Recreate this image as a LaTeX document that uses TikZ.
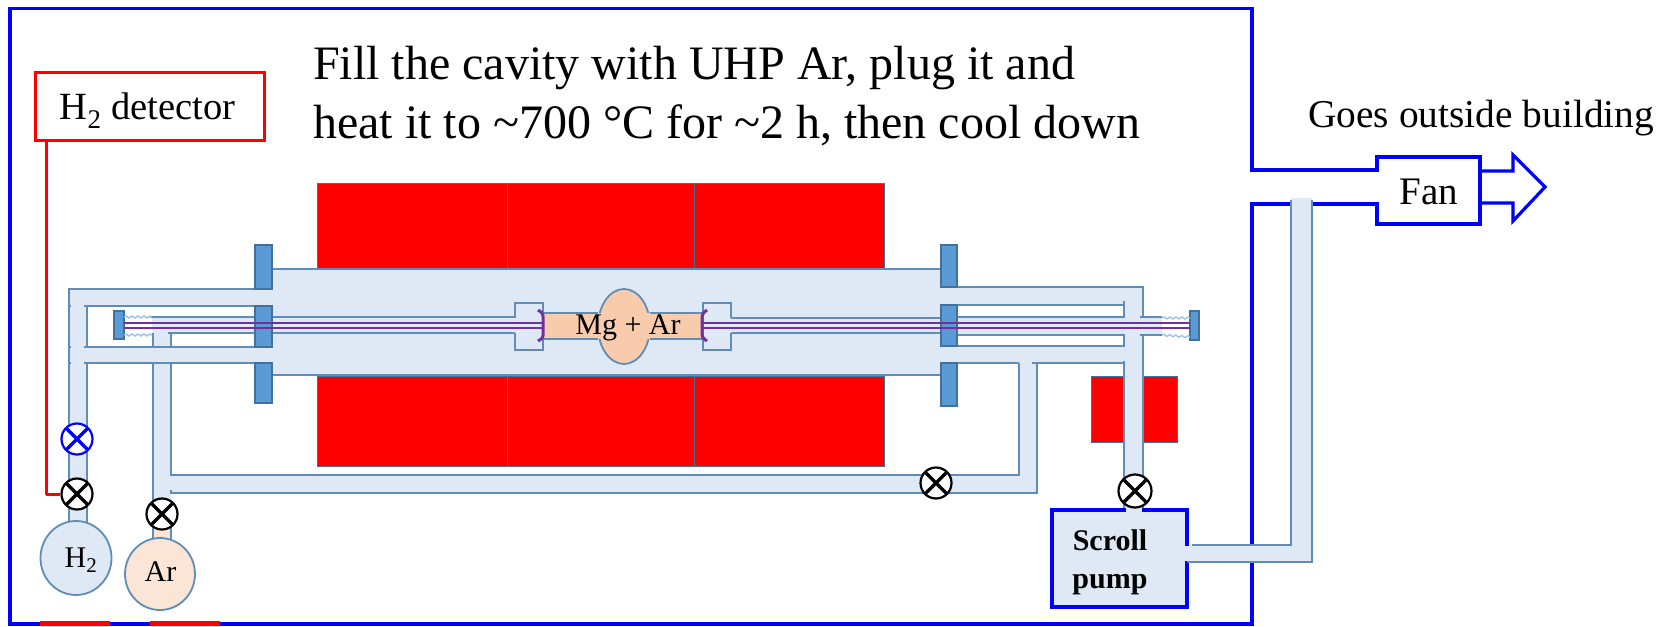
\documentclass[tikz,border=0pt]{standalone}
\usepackage{fontspec}
\setmainfont{Liberation Serif}
\usetikzlibrary{decorations.pathmorphing}
\definecolor{tubeline}{HTML}{5F8DB5}
\definecolor{tubefill}{HTML}{DEE9F5}
\definecolor{flangefill}{HTML}{5B9BD5}
\definecolor{flangeline}{HTML}{41719C}
\definecolor{peach}{HTML}{F8CBAD}
\definecolor{lightpeach}{HTML}{FBE5D6}
\definecolor{purp}{HTML}{7030A0}
\definecolor{squig}{HTML}{9DC3E6}
\newcommand{\fsz}[1]{\fontsize{#1}{#1}\selectfont}
\tikzset{
  tubef/.style={fill=tubefill,draw=none},
  tl/.style={draw=tubeline,line width=1.8pt},
  heater/.style={fill=red,draw=flangeline,line width=1pt},
  flange/.style={fill=flangefill,draw=flangeline,line width=1.2pt},
  duct/.style={draw=blue,line width=3.2pt},
  redl/.style={draw=red,line width=3pt},
  purpl/.style={draw=purp,line width=1.6pt},
  squiggle/.style={draw=squig,line width=1.4pt,decorate,decoration={snake,segment length=6pt,amplitude=1pt}},
  valve/.style={circle,draw=#1,line width=2.2pt,fill=white,minimum size=31pt,inner sep=0pt,
    path picture={\draw[#1,line width=3.4pt] (path picture bounding box.north west)--(path picture bounding box.south east)
      (path picture bounding box.north east)--(path picture bounding box.south west);}},
  tank/.style={ellipse,draw=tubeline,line width=1.8pt,inner sep=0pt},
  lab/.style={inner sep=0pt,text=black},
}
\usetikzlibrary{shapes.geometric}
\begin{document}
\begin{tikzpicture}[x=1pt,y=-1pt]
\useasboundingbox (0,0) rectangle (1669,626);
% outer enclosure and fan duct
\draw[duct,line join=miter] (1252,170) -- (1252,8.5) -- (10,8.5) -- (10,624) -- (1252,624) -- (1252,204) -- (1377,204) -- (1377,224) -- (1480,224) -- (1480,157) -- (1377,157) -- (1377,170) -- cycle;
\fill[white] (1250.5,171.6) rectangle (1253.7,202.4);
\draw[duct] (1252,170) -- (1377,170);
\draw[duct,line join=miter] (1480,171) -- (1513,171) -- (1513,155) -- (1545,187) -- (1513,221) -- (1513,203) -- (1480,203);
\fill[red] (40,621) rectangle (110,626) (150,621) rectangle (220,626);
% heaters
\draw[heater] (317,183) rectangle (507,268);
\draw[heater] (507,183) rectangle (694,268);
\draw[heater] (694,183) rectangle (884,268);
\draw[heater] (317,376) rectangle (507,466);
\draw[heater] (507,376) rectangle (694,466);
\draw[heater] (694,376) rectangle (884,466);
\draw[heater] (1091,376) rectangle (1177,442);
% tube fills
\fill[tubef] (255,269) rectangle (957,375);
\fill[tubef] (69,289) rectangle (255,306);
\fill[tubef] (69,289) rectangle (87,525);
\fill[tubef] (87,347) rectangle (255,363);
\fill[tubef] (153,333) rectangle (171,500);
\fill[tubef] (153,475) rectangle (1037,493);
\fill[tubef] (1019,363) rectangle (1037,493);
\fill[tubef] (957,287) rectangle (1143,305);
\fill[tubef] (1124,287) rectangle (1143,512);
\fill[tubef] (957,346) rectangle (1124,363);
\fill[tubef] (152,317) rectangle (255,333);
\fill[tubef] (957,317) rectangle (1162,335);
% tube outlines
\draw[tl] (69,522) -- (69,289) -- (255,289);
\draw[tl] (84,306) -- (255,306);
\draw[tl] (87,306) -- (87,347);
\draw[tl] (84,347) -- (255,347);
\draw[tl] (255,363) -- (84,363);
\draw[tl] (87,363) -- (87,522);
\draw[tl] (68,306) -- (71,306) (68,347) -- (71,347) (68,363) -- (71,363);
\draw[tl] (153,333) -- (153,347) (171,347) -- (171,333);
\draw[tl] (153,363) -- (153,500);
\draw[tl] (171,363) -- (171,475) -- (1019,475) -- (1019,363);
\draw[tl] (171,490) -- (171,493) -- (1037,493) -- (1037,363);
\draw[tl] (272,269) -- (941,269) (272,375) -- (941,375);
\draw[tl] (150,317) -- (515,317) (168,333) -- (515,333);
\draw[tl] (731,318) -- (941,318) (731,333) -- (941,333);
\draw[tl] (957,287) -- (1143,287) -- (1143,317);
\draw[tl] (957,305) -- (1124,305) (1124,301) -- (1124,317) -- (957,317);
\draw[tl] (957,335) -- (1124,335) -- (1124,346) -- (957,346);
\draw[tl] (957,363) -- (1019,363) (1032,363) -- (1124,363);
\draw[tl] (1124,361) -- (1124,510);
\draw[tl] (1140,317) -- (1162,317) (1140,335) -- (1162,335);
\draw[tl] (1143,335) -- (1143,510);
% reaction cell
\draw[tl,fill=tubefill] (515,318) -- (515,303) -- (543,303) -- (543,350) -- (515,350) -- (515,333);
\draw[tl,fill=tubefill] (731,318) -- (731,303) -- (703,303) -- (703,350) -- (731,350) -- (731,333);
\fill[tubefill] (512,319) rectangle (517,332) (729,319) rectangle (733,332);
\node[tank,fill=peach,minimum width=52pt,minimum height=75pt] (bulge) at (624,326.5) {};
\fill[peach] (543,313) rectangle (702,339);
\draw[tl] (543,313) -- (598,313) (650,313) -- (702,313) (543,339) -- (598,339) (650,339) -- (702,339);
% flanges
\foreach \fa/\fb in {245/289,306/347,363/403}{\draw[flange] (255,\fa) rectangle (272,\fb);}
\foreach \fa/\fb in {245/287,305/346,363/406}{\draw[flange] (941,\fa) rectangle (957,\fb);}
\draw[flange] (114,311) rectangle (124,339);
\draw[flange] (1190,311) rectangle (1199,340);
% thread
\draw[squiggle] (124,317) -- (152,317);
\draw[squiggle] (124,335) -- (152,335);
\draw[squiggle] (1162,318) -- (1190,318);
\draw[squiggle] (1162,335) -- (1190,337);
% thermocouple lines
\draw[purpl] (124,323) -- (543,323) (124,328) -- (543,328);
\draw[purpl] (702,323) -- (1190,323) (702,328) -- (1190,328);
\draw[draw=purp,line width=3pt] (538,310) .. controls (544,313) and (543,316) .. (543,320) -- (543,332) .. controls (543,336) and (544,338) .. (538,341);
\draw[draw=purp,line width=3pt] (707,310) .. controls (702,313) and (702,316) .. (702,320) -- (702,332) .. controls (702,336) and (702,338) .. (707,341);
\node[lab,font=\fsz{30}] (cell) at (628,328) {Mg + Ar};
% gas bottles
\fill[lightpeach] (153,525) rectangle (171,541);
\draw[tl] (153,525) -- (153,541) (171,525) -- (171,541);
\node[tank,fill=tubefill,minimum width=71pt,minimum height=74pt] (htank) at (76,558) {};
\node[lab,font=\fsz{30}] (hlab) at (81,560) {H\textsubscript{2}};
\node[tank,fill=lightpeach,minimum width=70pt,minimum height=72pt] (artank) at (160,574) {};
\node[lab,font=\fsz{30}] (arlab) at (160.5,572) {Ar};
% pump
\node[draw=blue,line width=3.2pt,fill=tubefill,minimum width=135pt,minimum height=97pt,inner sep=0pt] (pump) at (1119.5,558.5) {};
\node[lab,font=\fsz{30}\bfseries,align=center,text width=90pt] (pumplab) at (1110,562.5) {Scroll\\[8pt]pump};
\fill[tubefill] (1125.5,506) rectangle (1141.5,513);
\fill[tubefill] (1184,546) rectangle (1190,561);
\fill[tubefill] (1190,545) rectangle (1312,562);
\fill[tubefill] (1291,198) rectangle (1312,562);
\draw[tl] (1192,545) -- (1291,545) -- (1291,200);
\draw[tl] (1187,562) -- (1312,562) -- (1312,200);
% valves
\node[valve=blue] (vb) at (77,439) {};
\node[valve=black] (vh) at (77,494) {};
\node[valve=black] (va) at (162,514) {};
\node[valve=black] (vm) at (936,483) {};
\node[valve=black,minimum size=33pt] (vp) at (1135,491) {};
% detector
\node[draw=red,line width=3pt,fill=white,minimum width=229pt,minimum height=68pt,inner sep=0pt] (det) at (149.5,106) {};
\node[lab,font=\fsz{38.5}] (detlab) at (147.5,111) {H\textsubscript{2} detector};
\coordinate (detfoot) at (46,140);
\draw[redl,line join=round] (detfoot) |- (vh.west);
% texts
\node[lab,anchor=base west,font=\fsz{48}] (t1) at (313,79) {Fill the cavity with UHP Ar, plug it and};
\node[lab,anchor=base west,font=\fsz{48}] (t2) at (313,138) {heat it to \textasciitilde700 °C for \textasciitilde2 h, then cool down};
\node[lab,anchor=base west,font=\fsz{39.4}] (t3) at (1308,127) {Goes outside building};
\node[lab,font=\fsz{39}] (fan) at (1429,192) {Fan};
\end{tikzpicture}
\end{document}
